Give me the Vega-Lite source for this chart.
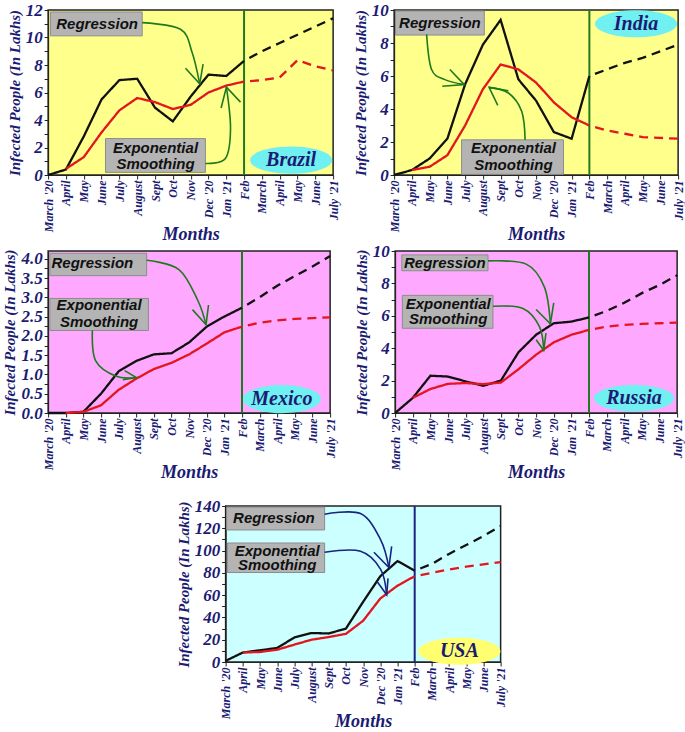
{
"$schema": "https://vega.github.io/schema/vega-lite/v6.json",
"padding": {"left": 2, "top": 0, "right": 2, "bottom": 0},
"datasets": {
"d": [
{"c":"BR","k":"ln","s":"reg","m":0,"v":0},{"c":"BR","k":"ln","s":"reg","m":1,"v":0.4},{"c":"BR","k":"ln","s":"reg","m":2,"v":2.8},{"c":"BR","k":"ln","s":"reg","m":3,"v":5.5},{"c":"BR","k":"ln","s":"reg","m":4,"v":6.9},{"c":"BR","k":"ln","s":"reg","m":5,"v":7.0},{"c":"BR","k":"ln","s":"reg","m":6,"v":4.9},{"c":"BR","k":"ln","s":"reg","m":7,"v":3.9},{"c":"BR","k":"ln","s":"reg","m":8,"v":5.7},{"c":"BR","k":"ln","s":"reg","m":9,"v":7.3},{"c":"BR","k":"ln","s":"reg","m":10,"v":7.2},{"c":"BR","k":"ln","s":"reg","m":11,"v":8.3},
{"c":"BR","k":"ln","s":"regf","m":11,"v":8.3},{"c":"BR","k":"ln","s":"regf","m":12,"v":9.0},{"c":"BR","k":"ln","s":"regf","m":13,"v":9.6},{"c":"BR","k":"ln","s":"regf","m":14,"v":10.2},{"c":"BR","k":"ln","s":"regf","m":15,"v":10.8},{"c":"BR","k":"ln","s":"regf","m":16,"v":11.4},
{"c":"BR","k":"ln","s":"exp","m":1,"v":0.45},{"c":"BR","k":"ln","s":"exp","m":2,"v":1.3},{"c":"BR","k":"ln","s":"exp","m":3,"v":3.1},{"c":"BR","k":"ln","s":"exp","m":4,"v":4.7},{"c":"BR","k":"ln","s":"exp","m":5,"v":5.6},{"c":"BR","k":"ln","s":"exp","m":6,"v":5.3},{"c":"BR","k":"ln","s":"exp","m":7,"v":4.8},{"c":"BR","k":"ln","s":"exp","m":8,"v":5.1},{"c":"BR","k":"ln","s":"exp","m":9,"v":6.0},{"c":"BR","k":"ln","s":"exp","m":10,"v":6.5},{"c":"BR","k":"ln","s":"exp","m":11,"v":6.8},
{"c":"BR","k":"ln","s":"expf","m":11,"v":6.8},{"c":"BR","k":"ln","s":"expf","m":12,"v":6.9},{"c":"BR","k":"ln","s":"expf","m":13,"v":7.1},{"c":"BR","k":"ln","s":"expf","m":14,"v":8.35},{"c":"BR","k":"ln","s":"expf","m":15,"v":7.9},{"c":"BR","k":"ln","s":"expf","m":16,"v":7.6},
{"c":"BR","k":"vl","m":11,"v":0,"v2":12},
{"c":"BR","k":"box","m":0.13,"m2":5.28,"v":11.86,"v2":10.12},{"c":"BR","k":"box","m":3.22,"m2":8.83,"v":2.65,"v2":0.19},
{"c":"BR","k":"txt","m":2.75,"v":11.0,"t":"Regression"},{"c":"BR","k":"txt","m":6.03,"v":1.93,"t":"Exponential"},{"c":"BR","k":"txt","m":6.03,"v":0.77,"t":"Smoothing"},
{"c":"BR","k":"arr","id":"a1","o":0,"m":5.28,"v":11.08},{"c":"BR","k":"arr","id":"a1","o":1,"m":7.43,"v":10.6},{"c":"BR","k":"arr","id":"a1","o":2,"m":8.08,"v":8.92},{"c":"BR","k":"arr","id":"a1","o":3,"m":8.51,"v":6.63},
{"c":"BR","k":"hd","id":"a1","o":0,"m":7.71,"v":7.76},{"c":"BR","k":"hd","id":"a1","o":1,"m":8.51,"v":6.63},{"c":"BR","k":"hd","id":"a1","o":2,"m":8.70,"v":8.07},
{"c":"BR","k":"arr","id":"a2","o":0,"m":8.83,"v":0.84},{"c":"BR","k":"arr","id":"a2","o":1,"m":9.95,"v":1.2},{"c":"BR","k":"arr","id":"a2","o":2,"m":10.24,"v":3.37},{"c":"BR","k":"arr","id":"a2","o":3,"m":10.01,"v":6.39},
{"c":"BR","k":"hd","id":"a2","o":0,"m":9.71,"v":4.87},{"c":"BR","k":"hd","id":"a2","o":1,"m":10.01,"v":6.39},{"c":"BR","k":"hd","id":"a2","o":2,"m":10.8,"v":5.3},
{"c":"BR","k":"el","m":13.64,"v":1.08},{"c":"BR","k":"nm","m":13.64,"v":1.08,"t":"Brazil"},

{"c":"IN","k":"ln","s":"reg","m":0,"v":0},{"c":"IN","k":"ln","s":"reg","m":1,"v":0.3},{"c":"IN","k":"ln","s":"reg","m":2,"v":1.0},{"c":"IN","k":"ln","s":"reg","m":3,"v":2.2},{"c":"IN","k":"ln","s":"reg","m":4,"v":5.5},{"c":"IN","k":"ln","s":"reg","m":5,"v":7.9},{"c":"IN","k":"ln","s":"reg","m":6,"v":9.4},{"c":"IN","k":"ln","s":"reg","m":7,"v":5.8},{"c":"IN","k":"ln","s":"reg","m":8,"v":4.5},{"c":"IN","k":"ln","s":"reg","m":9,"v":2.6},{"c":"IN","k":"ln","s":"reg","m":10,"v":2.2},{"c":"IN","k":"ln","s":"reg","m":11,"v":6.0},
{"c":"IN","k":"ln","s":"regf","m":11,"v":6.0},{"c":"IN","k":"ln","s":"regf","m":12,"v":6.4},{"c":"IN","k":"ln","s":"regf","m":13,"v":6.8},{"c":"IN","k":"ln","s":"regf","m":14,"v":7.1},{"c":"IN","k":"ln","s":"regf","m":15,"v":7.5},{"c":"IN","k":"ln","s":"regf","m":16,"v":7.9},
{"c":"IN","k":"ln","s":"exp","m":1,"v":0.3},{"c":"IN","k":"ln","s":"exp","m":2,"v":0.5},{"c":"IN","k":"ln","s":"exp","m":3,"v":1.2},{"c":"IN","k":"ln","s":"exp","m":4,"v":3.0},{"c":"IN","k":"ln","s":"exp","m":5,"v":5.2},{"c":"IN","k":"ln","s":"exp","m":6,"v":6.7},{"c":"IN","k":"ln","s":"exp","m":7,"v":6.4},{"c":"IN","k":"ln","s":"exp","m":8,"v":5.6},{"c":"IN","k":"ln","s":"exp","m":9,"v":4.4},{"c":"IN","k":"ln","s":"exp","m":10,"v":3.5},{"c":"IN","k":"ln","s":"exp","m":11,"v":3.0},
{"c":"IN","k":"ln","s":"expf","m":11,"v":3.0},{"c":"IN","k":"ln","s":"expf","m":12,"v":2.7},{"c":"IN","k":"ln","s":"expf","m":13,"v":2.5},{"c":"IN","k":"ln","s":"expf","m":14,"v":2.3},{"c":"IN","k":"ln","s":"expf","m":15,"v":2.25},{"c":"IN","k":"ln","s":"expf","m":16,"v":2.2},
{"c":"IN","k":"vl","m":11,"v":0,"v2":10},
{"c":"IN","k":"box","m":0.075,"m2":5.08,"v":9.94,"v2":8.48},{"c":"IN","k":"box","m":3.8,"m2":9.54,"v":2.13,"v2":0.04},
{"c":"IN","k":"txt","m":2.58,"v":9.22,"t":"Regression"},{"c":"IN","k":"txt","m":6.72,"v":1.62,"t":"Exponential"},{"c":"IN","k":"txt","m":6.72,"v":0.61,"t":"Smoothing"},
{"c":"IN","k":"arr","id":"b1","o":0,"m":1.83,"v":8.52},{"c":"IN","k":"arr","id":"b1","o":1,"m":2.11,"v":6.39},{"c":"IN","k":"arr","id":"b1","o":2,"m":2.86,"v":5.78},{"c":"IN","k":"arr","id":"b1","o":3,"m":3.95,"v":5.48},
{"c":"IN","k":"hd","id":"b1","o":0,"m":3.14,"v":6.39},{"c":"IN","k":"hd","id":"b1","o":1,"m":3.95,"v":5.48},{"c":"IN","k":"hd","id":"b1","o":2,"m":2.71,"v":5.38},
{"c":"IN","k":"arr","id":"b2","o":0,"m":7.38,"v":2.13},{"c":"IN","k":"arr","id":"b2","o":1,"m":7.19,"v":3.85},{"c":"IN","k":"arr","id":"b2","o":2,"m":6.44,"v":4.97},{"c":"IN","k":"arr","id":"b2","o":3,"m":5.35,"v":5.31},
{"c":"IN","k":"hd","id":"b2","o":0,"m":5.84,"v":4.22},{"c":"IN","k":"hd","id":"b2","o":1,"m":5.35,"v":5.31},{"c":"IN","k":"hd","id":"b2","o":2,"m":6.44,"v":5.11},
{"c":"IN","k":"el","m":13.63,"v":9.17},{"c":"IN","k":"nm","m":13.63,"v":9.17,"t":"India"},

{"c":"MX","k":"ln","s":"reg","m":0,"v":0},{"c":"MX","k":"ln","s":"reg","m":1,"v":0},{"c":"MX","k":"ln","s":"reg","m":2,"v":0.03},{"c":"MX","k":"ln","s":"reg","m":3,"v":0.5},{"c":"MX","k":"ln","s":"reg","m":4,"v":1.08},{"c":"MX","k":"ln","s":"reg","m":5,"v":1.35},{"c":"MX","k":"ln","s":"reg","m":6,"v":1.52},{"c":"MX","k":"ln","s":"reg","m":7,"v":1.55},{"c":"MX","k":"ln","s":"reg","m":8,"v":1.83},{"c":"MX","k":"ln","s":"reg","m":9,"v":2.24},{"c":"MX","k":"ln","s":"reg","m":10,"v":2.5},{"c":"MX","k":"ln","s":"reg","m":11,"v":2.73},
{"c":"MX","k":"ln","s":"regf","m":11,"v":2.73},{"c":"MX","k":"ln","s":"regf","m":12,"v":3.0},{"c":"MX","k":"ln","s":"regf","m":13,"v":3.3},{"c":"MX","k":"ln","s":"regf","m":14,"v":3.55},{"c":"MX","k":"ln","s":"regf","m":15,"v":3.8},{"c":"MX","k":"ln","s":"regf","m":16,"v":4.07},
{"c":"MX","k":"ln","s":"exp","m":1,"v":0},{"c":"MX","k":"ln","s":"exp","m":2,"v":0.03},{"c":"MX","k":"ln","s":"exp","m":3,"v":0.2},{"c":"MX","k":"ln","s":"exp","m":4,"v":0.6},{"c":"MX","k":"ln","s":"exp","m":5,"v":0.89},{"c":"MX","k":"ln","s":"exp","m":6,"v":1.14},{"c":"MX","k":"ln","s":"exp","m":7,"v":1.3},{"c":"MX","k":"ln","s":"exp","m":8,"v":1.52},{"c":"MX","k":"ln","s":"exp","m":9,"v":1.8},{"c":"MX","k":"ln","s":"exp","m":10,"v":2.09},{"c":"MX","k":"ln","s":"exp","m":11,"v":2.24},
{"c":"MX","k":"ln","s":"expf","m":11,"v":2.24},{"c":"MX","k":"ln","s":"expf","m":12,"v":2.34},{"c":"MX","k":"ln","s":"expf","m":13,"v":2.4},{"c":"MX","k":"ln","s":"expf","m":14,"v":2.44},{"c":"MX","k":"ln","s":"expf","m":15,"v":2.46},{"c":"MX","k":"ln","s":"expf","m":16,"v":2.48},
{"c":"MX","k":"vl","m":11,"v":0,"v2":4.2},
{"c":"MX","k":"box","m":0.1,"m2":5.59,"v":4.14,"v2":3.56},{"c":"MX","k":"box","m":0.1,"m2":5.69,"v":2.97,"v2":2.14},
{"c":"MX","k":"txt","m":2.51,"v":3.88,"t":"Regression"},{"c":"MX","k":"txt","m":2.89,"v":2.8,"t":"Exponential"},{"c":"MX","k":"txt","m":2.89,"v":2.36,"t":"Smoothing"},
{"c":"MX","k":"arr","id":"c1","o":0,"m":5.59,"v":3.96},{"c":"MX","k":"arr","id":"c1","o":1,"m":7.42,"v":3.72},{"c":"MX","k":"arr","id":"c1","o":2,"m":8.48,"v":2.93},{"c":"MX","k":"arr","id":"c1","o":3,"m":8.96,"v":2.29},
{"c":"MX","k":"hd","id":"c1","o":0,"m":8.19,"v":2.68},{"c":"MX","k":"hd","id":"c1","o":1,"m":8.96,"v":2.29},{"c":"MX","k":"hd","id":"c1","o":2,"m":9.1,"v":2.8},
{"c":"MX","k":"arr","id":"c2","o":0,"m":2.51,"v":2.14},{"c":"MX","k":"arr","id":"c2","o":1,"m":2.7,"v":1.35},{"c":"MX","k":"arr","id":"c2","o":2,"m":3.86,"v":0.95},{"c":"MX","k":"arr","id":"c2","o":3,"m":5.01,"v":0.92},
{"c":"MX","k":"hd","id":"c2","o":0,"m":4.34,"v":1.1},{"c":"MX","k":"hd","id":"c2","o":1,"m":5.01,"v":0.92},{"c":"MX","k":"hd","id":"c2","o":2,"m":4.24,"v":0.86},
{"c":"MX","k":"el","m":13.26,"v":0.36},{"c":"MX","k":"nm","m":13.26,"v":0.36,"t":"Mexico"},

{"c":"RU","k":"ln","s":"reg","m":0,"v":0},{"c":"RU","k":"ln","s":"reg","m":1,"v":0.93},{"c":"RU","k":"ln","s":"reg","m":2,"v":2.3},{"c":"RU","k":"ln","s":"reg","m":3,"v":2.25},{"c":"RU","k":"ln","s":"reg","m":4,"v":1.95},{"c":"RU","k":"ln","s":"reg","m":5,"v":1.68},{"c":"RU","k":"ln","s":"reg","m":6,"v":2.0},{"c":"RU","k":"ln","s":"reg","m":7,"v":3.75},{"c":"RU","k":"ln","s":"reg","m":8,"v":4.83},{"c":"RU","k":"ln","s":"reg","m":9,"v":5.54},{"c":"RU","k":"ln","s":"reg","m":10,"v":5.64},{"c":"RU","k":"ln","s":"reg","m":11,"v":5.9},
{"c":"RU","k":"ln","s":"regf","m":11,"v":5.9},{"c":"RU","k":"ln","s":"regf","m":12,"v":6.3},{"c":"RU","k":"ln","s":"regf","m":13,"v":6.8},{"c":"RU","k":"ln","s":"regf","m":14,"v":7.4},{"c":"RU","k":"ln","s":"regf","m":15,"v":7.9},{"c":"RU","k":"ln","s":"regf","m":16,"v":8.5},
{"c":"RU","k":"ln","s":"exp","m":1,"v":0.93},{"c":"RU","k":"ln","s":"exp","m":2,"v":1.48},{"c":"RU","k":"ln","s":"exp","m":3,"v":1.8},{"c":"RU","k":"ln","s":"exp","m":4,"v":1.85},{"c":"RU","k":"ln","s":"exp","m":5,"v":1.78},{"c":"RU","k":"ln","s":"exp","m":6,"v":1.88},{"c":"RU","k":"ln","s":"exp","m":7,"v":2.7},{"c":"RU","k":"ln","s":"exp","m":8,"v":3.6},{"c":"RU","k":"ln","s":"exp","m":9,"v":4.36},{"c":"RU","k":"ln","s":"exp","m":10,"v":4.83},{"c":"RU","k":"ln","s":"exp","m":11,"v":5.13},
{"c":"RU","k":"ln","s":"expf","m":11,"v":5.13},{"c":"RU","k":"ln","s":"expf","m":12,"v":5.33},{"c":"RU","k":"ln","s":"expf","m":13,"v":5.44},{"c":"RU","k":"ln","s":"expf","m":14,"v":5.5},{"c":"RU","k":"ln","s":"expf","m":15,"v":5.54},{"c":"RU","k":"ln","s":"expf","m":16,"v":5.58},
{"c":"RU","k":"vl","m":11,"v":0,"v2":10},
{"c":"RU","k":"box","m":0.38,"m2":5.27,"v":9.76,"v2":8.78},{"c":"RU","k":"box","m":0.41,"m2":5.55,"v":7.26,"v2":5.23},
{"c":"RU","k":"txt","m":2.82,"v":9.27,"t":"Regression"},{"c":"RU","k":"txt","m":3.01,"v":6.71,"t":"Exponential"},{"c":"RU","k":"txt","m":3.01,"v":5.78,"t":"Smoothing"},
{"c":"RU","k":"arr","id":"d1","o":0,"m":5.27,"v":9.39},{"c":"RU","k":"arr","id":"d1","o":1,"m":7.44,"v":9.19},{"c":"RU","k":"arr","id":"d1","o":2,"m":8.47,"v":7.77},{"c":"RU","k":"arr","id":"d1","o":3,"m":8.81,"v":5.5},
{"c":"RU","k":"hd","id":"d1","o":0,"m":8.0,"v":6.39},{"c":"RU","k":"hd","id":"d1","o":1,"m":8.81,"v":5.5},{"c":"RU","k":"hd","id":"d1","o":2,"m":9.0,"v":6.8},
{"c":"RU","k":"arr","id":"d2","o":0,"m":5.55,"v":6.59},{"c":"RU","k":"arr","id":"d2","o":1,"m":7.25,"v":6.45},{"c":"RU","k":"arr","id":"d2","o":2,"m":8.19,"v":5.33},{"c":"RU","k":"arr","id":"d2","o":3,"m":8.43,"v":3.87},
{"c":"RU","k":"hd","id":"d2","o":0,"m":8.0,"v":4.52},{"c":"RU","k":"hd","id":"d2","o":1,"m":8.43,"v":3.87},{"c":"RU","k":"hd","id":"d2","o":2,"m":8.56,"v":4.93},
{"c":"RU","k":"el","m":13.55,"v":0.91},{"c":"RU","k":"nm","m":13.55,"v":0.91,"t":"Russia"},

{"c":"US","k":"ln","s":"reg","m":0,"v":1},{"c":"US","k":"ln","s":"reg","m":1,"v":8.5},{"c":"US","k":"ln","s":"reg","m":2,"v":10.5},{"c":"US","k":"ln","s":"reg","m":3,"v":12.6},{"c":"US","k":"ln","s":"reg","m":4,"v":22},{"c":"US","k":"ln","s":"reg","m":5,"v":26},{"c":"US","k":"ln","s":"reg","m":6,"v":25.6},{"c":"US","k":"ln","s":"reg","m":7,"v":30},{"c":"US","k":"ln","s":"reg","m":8,"v":54},{"c":"US","k":"ln","s":"reg","m":9,"v":77},{"c":"US","k":"ln","s":"reg","m":10,"v":90.6},{"c":"US","k":"ln","s":"reg","m":11,"v":82},
{"c":"US","k":"ln","s":"regf","m":11,"v":82},{"c":"US","k":"ln","s":"regf","m":12,"v":88},{"c":"US","k":"ln","s":"regf","m":13,"v":97},{"c":"US","k":"ln","s":"regf","m":14,"v":105},{"c":"US","k":"ln","s":"regf","m":15,"v":113},{"c":"US","k":"ln","s":"regf","m":16,"v":122},
{"c":"US","k":"ln","s":"exp","m":1,"v":8.5},{"c":"US","k":"ln","s":"exp","m":2,"v":9},{"c":"US","k":"ln","s":"exp","m":3,"v":11},{"c":"US","k":"ln","s":"exp","m":4,"v":15.6},{"c":"US","k":"ln","s":"exp","m":5,"v":20},{"c":"US","k":"ln","s":"exp","m":6,"v":22.4},{"c":"US","k":"ln","s":"exp","m":7,"v":25.3},{"c":"US","k":"ln","s":"exp","m":8,"v":37},{"c":"US","k":"ln","s":"exp","m":9,"v":57},{"c":"US","k":"ln","s":"exp","m":10,"v":68.5},{"c":"US","k":"ln","s":"exp","m":11,"v":77},
{"c":"US","k":"ln","s":"expf","m":11,"v":77},{"c":"US","k":"ln","s":"expf","m":12,"v":80},{"c":"US","k":"ln","s":"expf","m":13,"v":83},{"c":"US","k":"ln","s":"expf","m":14,"v":85.6},{"c":"US","k":"ln","s":"expf","m":15,"v":87.6},{"c":"US","k":"ln","s":"expf","m":16,"v":89.7},
{"c":"US","k":"vl","m":11,"v":0,"v2":140},
{"c":"US","k":"box","m":0.06,"m2":5.76,"v":139,"v2":118.5},{"c":"US","k":"box","m":0.1,"m2":5.76,"v":106.8,"v2":80.3},
{"c":"US","k":"txt","m":2.81,"v":128.8,"t":"Regression"},{"c":"US","k":"txt","m":3.0,"v":100,"t":"Exponential"},{"c":"US","k":"txt","m":3.0,"v":86.8,"t":"Smoothing"},
{"c":"US","k":"arr","id":"e1","o":0,"m":5.76,"v":132.6},{"c":"US","k":"arr","id":"e1","o":1,"m":7.85,"v":133.2},{"c":"US","k":"arr","id":"e1","o":2,"m":9.02,"v":109.7},{"c":"US","k":"arr","id":"e1","o":3,"m":9.5,"v":84.7},
{"c":"US","k":"hd","id":"e1","o":0,"m":8.63,"v":98.5},{"c":"US","k":"hd","id":"e1","o":1,"m":9.5,"v":84.7},{"c":"US","k":"hd","id":"e1","o":2,"m":9.66,"v":103.8},
{"c":"US","k":"arr","id":"e2","o":0,"m":5.76,"v":98.5},{"c":"US","k":"arr","id":"e2","o":1,"m":7.85,"v":99.4},{"c":"US","k":"arr","id":"e2","o":2,"m":9.02,"v":83.2},{"c":"US","k":"arr","id":"e2","o":3,"m":9.37,"v":60.3},
{"c":"US","k":"hd","id":"e2","o":0,"m":8.82,"v":72},{"c":"US","k":"hd","id":"e2","o":1,"m":9.37,"v":60.3},{"c":"US","k":"hd","id":"e2","o":2,"m":9.45,"v":75},
{"c":"US","k":"el","m":13.6,"v":9.7},{"c":"US","k":"nm","m":13.6,"v":9.7,"t":"USA"}
]
},
"vconcat": [
{"vconcat": [
{"hconcat": [
{
"width": 285, "height": 165, "view": {"fill": "#ffff8c"},
"data": {"name": "d"}, "transform": [{"filter": "datum.c=='BR'"}],
"encoding": {
"x": {"field": "m", "type": "quantitative", "scale": {"domain": [0, 16], "nice": false, "zero": false}, "axis": {"values": [0,1,2,3,4,5,6,7,8,9,10,11,12,13,14,15,16], "labelExpr": "[\"March '20\",\"April\",\"May\",\"June\",\"July\",\"August\",\"Sept\",\"Oct\",\"Nov\",\"Dec '20\",\"Jan '21\",\"Feb\",\"March\",\"April\",\"May\",\"June\",\"July '21\"][datum.value]", "title": "Months"}},
"y": {"field": "v", "type": "quantitative", "scale": {"domain": [0, 12], "nice": false}, "axis": {"values": [0,1,2,3,4,5,6,7,8,9,10,11,12], "labelExpr": "datum.value % 2 == 0 ? datum.label : ''", "title": "Infected People (In Lakhs)"}}
},
"layer": [
{"transform": [{"filter": "datum.k=='vl'"}], "mark": {"type": "rule", "color": "#1f7a1f", "strokeWidth": 2}, "encoding": {"y2": {"field": "v2"}}},
{"transform": [{"filter": "datum.k=='ln'"}], "mark": {"type": "line", "strokeWidth": 2.3, "strokeDashOffset": 9}, "encoding": {"color": {"field": "s", "type": "nominal", "scale": {"domain": ["reg","exp","regf","expf"], "range": ["#111111","#e3161e","#111111","#e3161e"]}, "legend": null}, "strokeDash": {"field": "s", "type": "nominal", "scale": {"domain": ["reg","exp","regf","expf"], "range": [[1,0],[1,0],[9,6],[9,6]]}, "legend": null}, "order": {"field": "m", "type": "quantitative"}}},
{"transform": [{"filter": "datum.k=='box'"}], "mark": {"type": "rect", "fill": "#b4b4b4", "stroke": "#8c8c8c", "strokeWidth": 1}, "encoding": {"x2": {"field": "m2"}, "y2": {"field": "v2"}}},
{"transform": [{"filter": "datum.k=='txt'"}], "mark": {"type": "text", "font": "Liberation Sans", "fontStyle": "italic", "fontWeight": "bold", "fontSize": 15, "color": "#111111"}, "encoding": {"text": {"field": "t"}}},
{"transform": [{"filter": "datum.k=='arr'"}], "mark": {"type": "line", "interpolate": "cardinal", "color": "#1f7a1f", "strokeWidth": 1.6}, "encoding": {"detail": {"field": "id"}, "order": {"field": "o", "type": "quantitative"}}},
{"transform": [{"filter": "datum.k=='hd'"}], "mark": {"type": "line", "color": "#1f7a1f", "strokeWidth": 1.6}, "encoding": {"detail": {"field": "id"}, "order": {"field": "o", "type": "quantitative"}}},
{"transform": [{"filter": "datum.k=='el'"}], "mark": {"type": "point", "shape": "M-1,0A1,0.33,0,1,1,1,0A1,0.33,0,1,1,-1,0Z", "size": 6724, "filled": true, "color": "#70f0f0", "opacity": 1}, "encoding": {}},
{"transform": [{"filter": "datum.k=='nm'"}], "mark": {"type": "text", "font": "Liberation Serif", "fontStyle": "italic", "fontWeight": "bold", "fontSize": 20, "color": "#1b1b73"}, "encoding": {"text": {"field": "t"}}}
]
},
{
"width": 284, "height": 165, "view": {"fill": "#ffff8c"},
"data": {"name": "d"}, "transform": [{"filter": "datum.c=='IN'"}],
"encoding": {
"x": {"field": "m", "type": "quantitative", "scale": {"domain": [0, 16], "nice": false, "zero": false}, "axis": {"values": [0,1,2,3,4,5,6,7,8,9,10,11,12,13,14,15,16], "labelExpr": "[\"March '20\",\"April\",\"May\",\"June\",\"July\",\"August\",\"Sept\",\"Oct\",\"Nov\",\"Dec '20\",\"Jan '21\",\"Feb\",\"March\",\"April\",\"May\",\"June\",\"July '21\"][datum.value]", "title": "Months"}},
"y": {"field": "v", "type": "quantitative", "scale": {"domain": [0, 10], "nice": false}, "axis": {"values": [0,1,2,3,4,5,6,7,8,9,10], "labelExpr": "datum.value % 2 == 0 ? datum.label : ''", "title": "Infected People (In Lakhs)"}}
},
"layer": [
{"transform": [{"filter": "datum.k=='vl'"}], "mark": {"type": "rule", "color": "#1f7a1f", "strokeWidth": 2}, "encoding": {"y2": {"field": "v2"}}},
{"transform": [{"filter": "datum.k=='ln'"}], "mark": {"type": "line", "strokeWidth": 2.3, "strokeDashOffset": 9}, "encoding": {"color": {"field": "s", "type": "nominal", "scale": {"domain": ["reg","exp","regf","expf"], "range": ["#111111","#e3161e","#111111","#e3161e"]}, "legend": null}, "strokeDash": {"field": "s", "type": "nominal", "scale": {"domain": ["reg","exp","regf","expf"], "range": [[1,0],[1,0],[9,6],[9,6]]}, "legend": null}, "order": {"field": "m", "type": "quantitative"}}},
{"transform": [{"filter": "datum.k=='box'"}], "mark": {"type": "rect", "fill": "#b4b4b4", "stroke": "#8c8c8c", "strokeWidth": 1}, "encoding": {"x2": {"field": "m2"}, "y2": {"field": "v2"}}},
{"transform": [{"filter": "datum.k=='txt'"}], "mark": {"type": "text", "font": "Liberation Sans", "fontStyle": "italic", "fontWeight": "bold", "fontSize": 15, "color": "#111111"}, "encoding": {"text": {"field": "t"}}},
{"transform": [{"filter": "datum.k=='arr'"}], "mark": {"type": "line", "interpolate": "cardinal", "color": "#1f7a1f", "strokeWidth": 1.6}, "encoding": {"detail": {"field": "id"}, "order": {"field": "o", "type": "quantitative"}}},
{"transform": [{"filter": "datum.k=='hd'"}], "mark": {"type": "line", "color": "#1f7a1f", "strokeWidth": 1.6}, "encoding": {"detail": {"field": "id"}, "order": {"field": "o", "type": "quantitative"}}},
{"transform": [{"filter": "datum.k=='el'"}], "mark": {"type": "point", "shape": "M-1,0A1,0.33,0,1,1,1,0A1,0.33,0,1,1,-1,0Z", "size": 6724, "filled": true, "color": "#70f0f0", "opacity": 1}, "encoding": {}},
{"transform": [{"filter": "datum.k=='nm'"}], "mark": {"type": "text", "font": "Liberation Serif", "fontStyle": "italic", "fontWeight": "bold", "fontSize": 20, "color": "#1b1b73"}, "encoding": {"text": {"field": "t"}}}
]
}
], "spacing": 12},
{"hconcat": [
{
"width": 282, "height": 162, "view": {"fill": "#ffa8ff"},
"data": {"name": "d"}, "transform": [{"filter": "datum.c=='MX'"}],
"encoding": {
"x": {"field": "m", "type": "quantitative", "scale": {"domain": [0, 16], "nice": false, "zero": false}, "axis": {"values": [0,1,2,3,4,5,6,7,8,9,10,11,12,13,14,15,16], "labelExpr": "[\"March '20\",\"April\",\"May\",\"June\",\"July\",\"August\",\"Sept\",\"Oct\",\"Nov\",\"Dec '20\",\"Jan '21\",\"Feb\",\"March\",\"April\",\"May\",\"June\",\"July '21\"][datum.value]", "title": "Months"}},
"y": {"field": "v", "type": "quantitative", "scale": {"domain": [0, 4.2], "nice": false}, "axis": {"values": [0,0.25,0.5,0.75,1,1.25,1.5,1.75,2,2.25,2.5,2.75,3,3.25,3.5,3.75,4], "format": ".1f", "labelExpr": "(datum.value * 4) % 2 == 0 ? datum.label : ''", "title": "Infected People (In Lakhs)"}}
},
"layer": [
{"transform": [{"filter": "datum.k=='vl'"}], "mark": {"type": "rule", "color": "#1f7a1f", "strokeWidth": 2}, "encoding": {"y2": {"field": "v2"}}},
{"transform": [{"filter": "datum.k=='ln'"}], "mark": {"type": "line", "strokeWidth": 2.3, "strokeDashOffset": 9}, "encoding": {"color": {"field": "s", "type": "nominal", "scale": {"domain": ["reg","exp","regf","expf"], "range": ["#111111","#e3161e","#111111","#e3161e"]}, "legend": null}, "strokeDash": {"field": "s", "type": "nominal", "scale": {"domain": ["reg","exp","regf","expf"], "range": [[1,0],[1,0],[9,6],[9,6]]}, "legend": null}, "order": {"field": "m", "type": "quantitative"}}},
{"transform": [{"filter": "datum.k=='box'"}], "mark": {"type": "rect", "fill": "#b4b4b4", "stroke": "#8c8c8c", "strokeWidth": 1}, "encoding": {"x2": {"field": "m2"}, "y2": {"field": "v2"}}},
{"transform": [{"filter": "datum.k=='txt'"}], "mark": {"type": "text", "font": "Liberation Sans", "fontStyle": "italic", "fontWeight": "bold", "fontSize": 15, "color": "#111111"}, "encoding": {"text": {"field": "t"}}},
{"transform": [{"filter": "datum.k=='arr'"}], "mark": {"type": "line", "interpolate": "cardinal", "color": "#1f7a1f", "strokeWidth": 1.6}, "encoding": {"detail": {"field": "id"}, "order": {"field": "o", "type": "quantitative"}}},
{"transform": [{"filter": "datum.k=='hd'"}], "mark": {"type": "line", "color": "#1f7a1f", "strokeWidth": 1.6}, "encoding": {"detail": {"field": "id"}, "order": {"field": "o", "type": "quantitative"}}},
{"transform": [{"filter": "datum.k=='el'"}], "mark": {"type": "point", "shape": "M-1,0A1,0.36,0,1,1,1,0A1,0.36,0,1,1,-1,0Z", "size": 6084, "filled": true, "color": "#70f0f0", "opacity": 1}, "encoding": {}},
{"transform": [{"filter": "datum.k=='nm'"}], "mark": {"type": "text", "font": "Liberation Serif", "fontStyle": "italic", "fontWeight": "bold", "fontSize": 20, "color": "#1b1b73"}, "encoding": {"text": {"field": "t"}}}
]
},
{
"width": 282, "height": 162, "view": {"fill": "#ffa8ff"},
"data": {"name": "d"}, "transform": [{"filter": "datum.c=='RU'"}],
"encoding": {
"x": {"field": "m", "type": "quantitative", "scale": {"domain": [0, 16], "nice": false, "zero": false}, "axis": {"values": [0,1,2,3,4,5,6,7,8,9,10,11,12,13,14,15,16], "labelExpr": "[\"March '20\",\"April\",\"May\",\"June\",\"July\",\"August\",\"Sept\",\"Oct\",\"Nov\",\"Dec '20\",\"Jan '21\",\"Feb\",\"March\",\"April\",\"May\",\"June\",\"July '21\"][datum.value]", "title": "Months"}},
"y": {"field": "v", "type": "quantitative", "scale": {"domain": [0, 10], "nice": false}, "axis": {"values": [0,1,2,3,4,5,6,7,8,9,10], "labelExpr": "datum.value % 2 == 0 ? datum.label : ''", "title": "Infected People (In Lakhs)"}}
},
"layer": [
{"transform": [{"filter": "datum.k=='vl'"}], "mark": {"type": "rule", "color": "#1f7a1f", "strokeWidth": 2}, "encoding": {"y2": {"field": "v2"}}},
{"transform": [{"filter": "datum.k=='ln'"}], "mark": {"type": "line", "strokeWidth": 2.3, "strokeDashOffset": 9}, "encoding": {"color": {"field": "s", "type": "nominal", "scale": {"domain": ["reg","exp","regf","expf"], "range": ["#111111","#e3161e","#111111","#e3161e"]}, "legend": null}, "strokeDash": {"field": "s", "type": "nominal", "scale": {"domain": ["reg","exp","regf","expf"], "range": [[1,0],[1,0],[9,6],[9,6]]}, "legend": null}, "order": {"field": "m", "type": "quantitative"}}},
{"transform": [{"filter": "datum.k=='box'"}], "mark": {"type": "rect", "fill": "#b4b4b4", "stroke": "#8c8c8c", "strokeWidth": 1}, "encoding": {"x2": {"field": "m2"}, "y2": {"field": "v2"}}},
{"transform": [{"filter": "datum.k=='txt'"}], "mark": {"type": "text", "font": "Liberation Sans", "fontStyle": "italic", "fontWeight": "bold", "fontSize": 15, "color": "#111111"}, "encoding": {"text": {"field": "t"}}},
{"transform": [{"filter": "datum.k=='arr'"}], "mark": {"type": "line", "interpolate": "cardinal", "color": "#1f7a1f", "strokeWidth": 1.6}, "encoding": {"detail": {"field": "id"}, "order": {"field": "o", "type": "quantitative"}}},
{"transform": [{"filter": "datum.k=='hd'"}], "mark": {"type": "line", "color": "#1f7a1f", "strokeWidth": 1.6}, "encoding": {"detail": {"field": "id"}, "order": {"field": "o", "type": "quantitative"}}},
{"transform": [{"filter": "datum.k=='el'"}], "mark": {"type": "point", "shape": "M-1,0A1,0.33,0,1,1,1,0A1,0.33,0,1,1,-1,0Z", "size": 6400, "filled": true, "color": "#70f0f0", "opacity": 1}, "encoding": {}},
{"transform": [{"filter": "datum.k=='nm'"}], "mark": {"type": "text", "font": "Liberation Serif", "fontStyle": "italic", "fontWeight": "bold", "fontSize": 20, "color": "#1b1b73"}, "encoding": {"text": {"field": "t"}}}
]
}
], "spacing": 16}
], "spacing": -3},
{
"width": 275, "height": 156, "view": {"fill": "#ccffff"},
"data": {"name": "d"}, "transform": [{"filter": "datum.c=='US'"}],
"encoding": {
"x": {"field": "m", "type": "quantitative", "scale": {"domain": [0, 16], "nice": false, "zero": false}, "axis": {"values": [0,1,2,3,4,5,6,7,8,9,10,11,12,13,14,15,16], "labelExpr": "[\"March '20\",\"April\",\"May\",\"June\",\"July\",\"August\",\"Sept\",\"Oct\",\"Nov\",\"Dec '20\",\"Jan '21\",\"Feb\",\"March\",\"April\",\"May\",\"June\",\"July '21\"][datum.value]", "title": "Months"}},
"y": {"field": "v", "type": "quantitative", "scale": {"domain": [0, 140], "nice": false}, "axis": {"values": [0,10,20,30,40,50,60,70,80,90,100,110,120,130,140], "labelExpr": "datum.value % 20 == 0 ? datum.label : ''", "title": "Infected People (In Lakhs)"}}
},
"layer": [
{"transform": [{"filter": "datum.k=='vl'"}], "mark": {"type": "rule", "color": "#1a237e", "strokeWidth": 2}, "encoding": {"y2": {"field": "v2"}}},
{"transform": [{"filter": "datum.k=='ln'"}], "mark": {"type": "line", "strokeWidth": 2.3, "strokeDashOffset": 9}, "encoding": {"color": {"field": "s", "type": "nominal", "scale": {"domain": ["reg","exp","regf","expf"], "range": ["#111111","#e3161e","#111111","#e3161e"]}, "legend": null}, "strokeDash": {"field": "s", "type": "nominal", "scale": {"domain": ["reg","exp","regf","expf"], "range": [[1,0],[1,0],[9,6],[9,6]]}, "legend": null}, "order": {"field": "m", "type": "quantitative"}}},
{"transform": [{"filter": "datum.k=='box'"}], "mark": {"type": "rect", "fill": "#b4b4b4", "stroke": "#8c8c8c", "strokeWidth": 1}, "encoding": {"x2": {"field": "m2"}, "y2": {"field": "v2"}}},
{"transform": [{"filter": "datum.k=='txt'"}], "mark": {"type": "text", "font": "Liberation Sans", "fontStyle": "italic", "fontWeight": "bold", "fontSize": 15, "color": "#111111"}, "encoding": {"text": {"field": "t"}}},
{"transform": [{"filter": "datum.k=='arr'"}], "mark": {"type": "line", "interpolate": "cardinal", "color": "#1a237e", "strokeWidth": 1.6}, "encoding": {"detail": {"field": "id"}, "order": {"field": "o", "type": "quantitative"}}},
{"transform": [{"filter": "datum.k=='hd'"}], "mark": {"type": "line", "color": "#1a237e", "strokeWidth": 1.6}, "encoding": {"detail": {"field": "id"}, "order": {"field": "o", "type": "quantitative"}}},
{"transform": [{"filter": "datum.k=='el'"}], "mark": {"type": "point", "shape": "M-1,0A1,0.33,0,1,1,1,0A1,0.33,0,1,1,-1,0Z", "size": 6724, "filled": true, "color": "#ffff70", "opacity": 1}, "encoding": {}},
{"transform": [{"filter": "datum.k=='nm'"}], "mark": {"type": "text", "font": "Liberation Serif", "fontStyle": "italic", "fontWeight": "bold", "fontSize": 20, "color": "#1b1b73"}, "encoding": {"text": {"field": "t"}}}
]
}
],
"spacing": 14,
"center": true,
"config": {
"view": {"stroke": "#222222", "strokeWidth": 1.5},
"axis": {"labelFont": "Liberation Serif", "labelFontStyle": "italic", "labelFontWeight": "bold", "labelColor": "#1b1b73", "titleFont": "Liberation Serif", "titleFontStyle": "italic", "titleFontWeight": "bold", "titleColor": "#1b1b73", "domainColor": "#222222", "tickColor": "#222222", "grid": false},
"axisX": {"labelFontSize": 12, "labelAngle": -90, "labelPadding": 1, "titleFontSize": 18, "titleY": 50, "titleBaseline": "top", "labelOverlap": false, "labelFlush": false, "tickSize": 4},
"axisY": {"labelFontSize": 17, "titleFontSize": 15, "titlePadding": 3, "labelOverlap": false, "tickSize": 4}
}
}
